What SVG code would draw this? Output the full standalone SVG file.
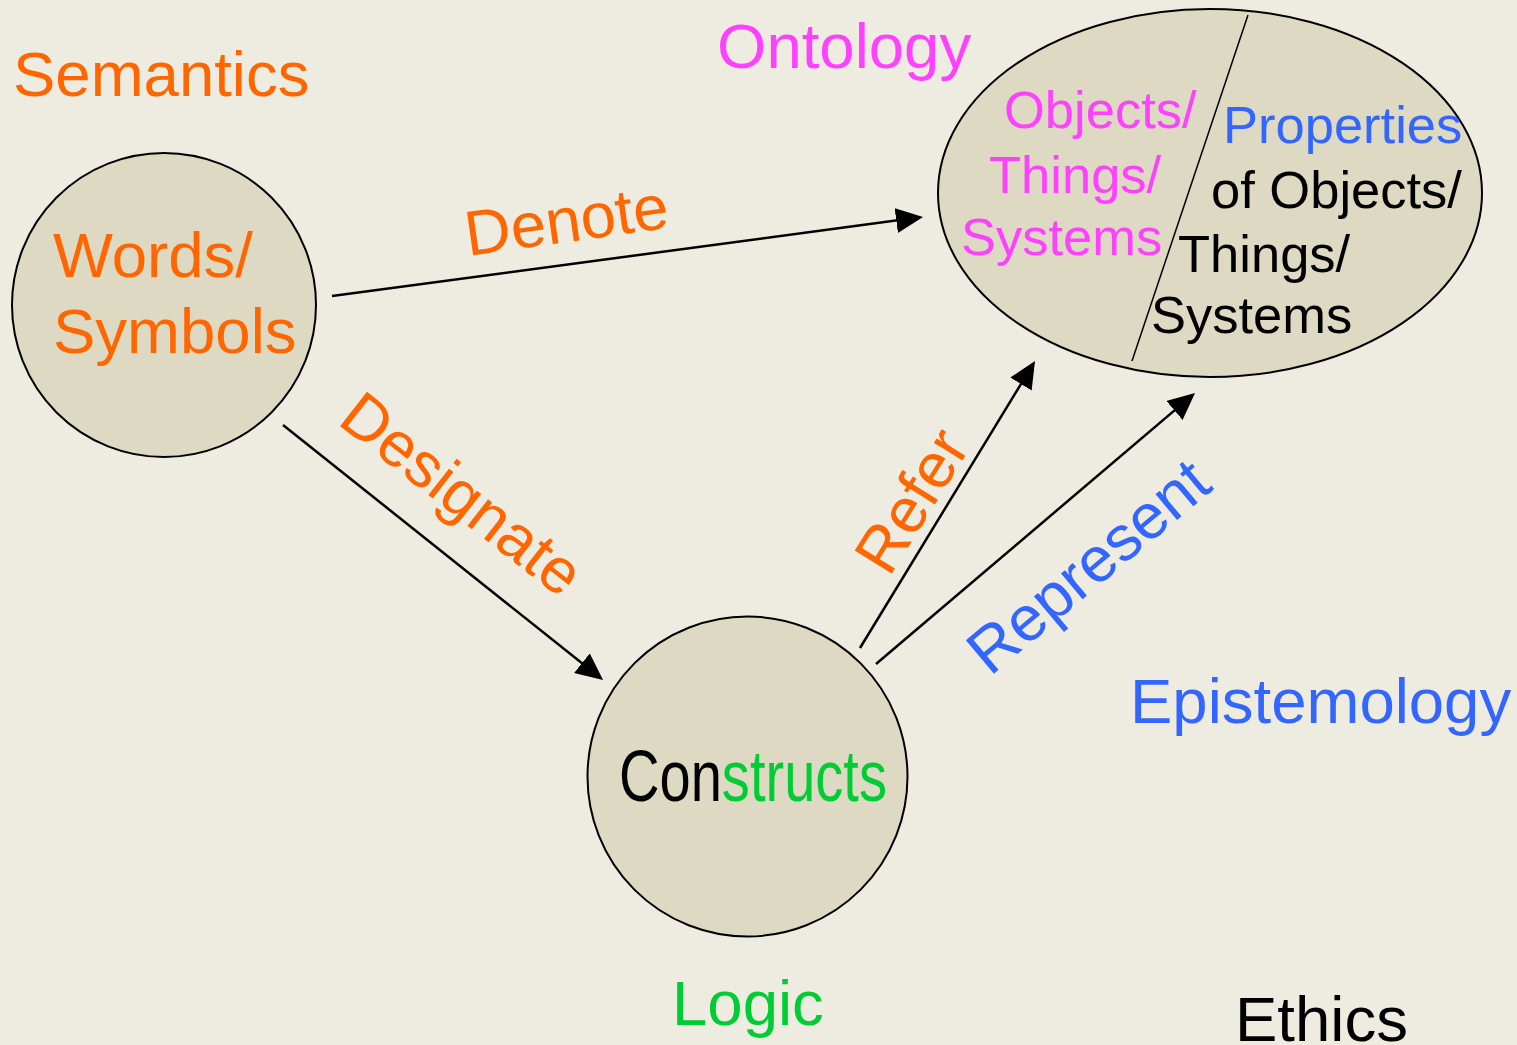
<svg xmlns="http://www.w3.org/2000/svg" width="1517" height="1045" viewBox="0 0 1517 1045">
  <style>
    text { font-family: "Liberation Sans", Arial, sans-serif; }
    .big { font-size: 63.5px; }
    .mid { font-size: 52.5px; }
    .orange { fill: #FF6600; }
    .magenta { fill: #FF40FF; }
    .blue { fill: #3366FF; }
    .green { fill: #00CC33; }
    .black { fill: #000000; }
    .node { fill: #DDD9C3; stroke: #000000; stroke-width: 2; }
    .edge { fill: none; stroke: #000000; stroke-width: 2.5; marker-end: url(#arrow); }
  </style>
  <defs>
    <marker id="arrow" markerUnits="userSpaceOnUse" viewBox="0 0 27 25" refX="7" refY="12.5" markerWidth="27" markerHeight="25" orient="auto">
      <path d="M0,0 L27,12.5 L0,25 Z" fill="#000000"/>
    </marker>
  </defs>

  <!-- page background -->
  <rect x="0" y="0" width="1517" height="1045" fill="#EEECE1"/>

  <!-- discipline labels -->
  <text class="big orange" x="13" y="96">Semantics</text>
  <text class="big magenta" x="717" y="68">Ontology</text>
  <text class="big blue" x="1130" y="723">Epistemology</text>
  <text class="big green" x="672" y="1025">Logic</text>
  <text class="big black" x="1235" y="1041">Ethics</text>

  <!-- nodes -->
  <g id="words">
    <circle class="node" cx="164" cy="305" r="152"/>
    <text class="big orange" x="53" y="277">Words/</text>
    <text class="big orange" x="53" y="353">Symbols</text>
  </g>

  <g id="constructs">
    <circle class="node" cx="747.5" cy="776.5" r="160"/>
    <text x="619" y="801" font-size="72" textLength="268" lengthAdjust="spacingAndGlyphs"><tspan class="black">Con</tspan><tspan class="green">structs</tspan></text>
  </g>

  <g id="reality">
    <ellipse class="node" cx="1210" cy="193" rx="272" ry="184" stroke-width="1.5"/>
    <line x1="1248" y1="15" x2="1132" y2="361" stroke="#000000" stroke-width="1.5"/>
    <text class="mid magenta" x="1004" y="128">Objects/</text>
    <text class="mid magenta" x="989" y="193">Things/</text>
    <text class="mid magenta" x="961" y="255">Systems</text>
    <text class="mid blue" x="1223" y="143">Properties</text>
    <text class="mid black" x="1211" y="208">of Objects/</text>
    <text class="mid black" x="1178" y="272">Things/</text>
    <text class="mid black" x="1151" y="333">Systems</text>
  </g>

  <!-- connectors -->
  <g id="connectors">
    <path class="edge" d="M332,296 L903.2,219.6"/>
    <path class="edge" d="M283,425 L587.4,667.5"/>
    <path class="edge" d="M860,648 L1024.6,378.1"/>
    <path class="edge" d="M876,664 L1179.8,405.9"/>
    <text class="big orange" transform="translate(468,256) rotate(-8)">Denote</text>
    <text class="big orange" transform="translate(336,423) rotate(38)">Designate</text>
    <text class="big orange" transform="translate(889,578) rotate(-58)">Refer</text>
    <text class="big blue" transform="translate(990,677) rotate(-40)">Represent</text>
  </g>
</svg>
